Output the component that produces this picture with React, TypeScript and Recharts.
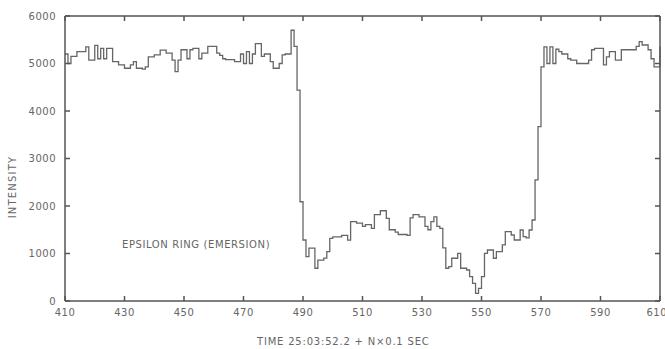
import React from "react"
import { LineChart, Line, XAxis, YAxis } from "recharts"

// intensity per step, N = 410 .. 610
const intensity = [
  5200, 5000, 5150, 5150, 5250, 5250, 5250, 5350, 5070, 5070,
  5380, 5100, 5320, 5100, 5320, 5320, 5040, 5040, 4970, 4970,
  4900, 4900, 4970, 5040, 4900, 4900, 4880, 4930, 5140, 5140,
  5180, 5180, 5280, 5280, 5220, 5220, 5070, 4830, 5070, 5290,
  5290, 5100, 5290, 5320, 5320, 5100, 5220, 5220, 5360, 5360,
  5360, 5220, 5170, 5100, 5080, 5080, 5080, 5040, 5040, 5200,
  5000, 5250, 5000, 5200, 5420, 5420, 5150, 5200, 5200, 5040,
  4900, 4900, 5000, 5180, 5200, 5200, 5700, 5360, 4440, 2090,
  1284, 933, 1115, 1115, 690, 860, 860, 903, 1040, 1320,
  1350, 1350, 1350, 1380, 1380, 1280, 1670, 1670, 1640, 1640,
  1570, 1610, 1610, 1530, 1820, 1820, 1900, 1900, 1740, 1500,
  1500, 1450, 1400, 1400, 1400, 1380, 1750, 1820, 1820, 1770,
  1770, 1570, 1500, 1670, 1770, 1570, 1530, 1120, 690, 722,
  900, 900, 1004, 690, 690, 653, 512, 372, 162, 267,
  512, 1004, 1074, 1074, 900, 1040, 1040, 1180, 1460, 1460,
  1390, 1284, 1284, 1495, 1354, 1330, 1495, 1705, 2550, 3670,
  4930, 5350, 5000, 5350, 5000, 5300, 5250, 5200, 5200, 5100,
  5070, 5070, 5000, 5000, 5000, 5000, 5070, 5290, 5320, 5320,
  5320, 4970, 5140, 5250, 5250, 5070, 5070, 5290, 5290, 5290,
  5290, 5290, 5360, 5460, 5390, 5390, 5290, 5100, 4930, 4930,
  5360,
]
const firstN = 410
const xTicks = [410, 430, 450, 470, 490, 510, 530, 550, 570, 590, 610]
const yTicks = [0, 1000, 2000, 3000, 4000, 5000, 6000]

const rows = intensity.map((v, i) => ({ n: firstN + i, v }))

const ink = "#555"
const font = "'DejaVu Sans', sans-serif"
const tickStyle = { fontSize: 10, fill: "#666", fontFamily: font, letterSpacing: 0.5 }
const blank = () => ""

export default function App() {
  return (
    <div style={{ position: "absolute", left: 0, top: 0, width: 665, height: 349, background: "#fff" }}>
      <LineChart width={665} height={349} data={rows} margin={{ top: 15, right: 4, left: 5, bottom: 0 }}>
        <XAxis
          dataKey="n"
          type="number"
          domain={[410, 610]}
          ticks={xTicks}
          height={48}
          tickSize={-5}
          tickMargin={13}
          tick={tickStyle}
          stroke={ink}
          strokeWidth={1.5}
        />
        <XAxis
          xAxisId="top"
          orientation="top"
          dataKey="n"
          type="number"
          domain={[410, 610]}
          ticks={xTicks}
          height={1}
          tickSize={-5}
          tickFormatter={blank}
          stroke={ink}
          strokeWidth={1.5}
        />
        <YAxis
          type="number"
          domain={[0, 6000]}
          ticks={yTicks}
          width={60}
          tickSize={-5}
          tickMargin={14}
          tick={tickStyle}
          stroke={ink}
          strokeWidth={1.5}
        />
        <YAxis
          yAxisId="right"
          orientation="right"
          type="number"
          domain={[0, 6000]}
          ticks={yTicks}
          width={1}
          tickSize={-5}
          tickFormatter={blank}
          stroke={ink}
          strokeWidth={1.5}
        />
        {/* invisible copy so the top and right frame axes get drawn */}
        <Line
          xAxisId="top"
          yAxisId="right"
          type="stepAfter"
          dataKey="v"
          stroke="none"
          dot={false}
          activeDot={false}
          legendType="none"
          isAnimationActive={false}
        />
        <Line
          type="stepAfter"
          dataKey="v"
          stroke="#666"
          strokeWidth={1.3}
          dot={false}
          isAnimationActive={false}
        />
      </LineChart>
      <div
        style={{
          position: "absolute", left: 122, top: 239, fontFamily: font, fontSize: 10,
          letterSpacing: 0.6, color: "#666", whiteSpace: "nowrap",
        }}
      >
        EPSILON RING (EMERSION)
      </div>
      <div
        style={{
          position: "absolute", left: 12, top: 187, fontFamily: font, fontSize: 10,
          letterSpacing: 1.2, color: "#666", whiteSpace: "nowrap",
          transform: "translate(-50%, -50%) rotate(-90deg)",
        }}
      >
        INTENSITY
      </div>
      <div
        style={{
          position: "absolute", left: 257, top: 336, fontFamily: font, fontSize: 10,
          letterSpacing: 0.8, color: "#666", whiteSpace: "nowrap",
        }}
      >
        TIME 25:03:52.2 + N×0.1 SEC
      </div>
    </div>
  )
}
